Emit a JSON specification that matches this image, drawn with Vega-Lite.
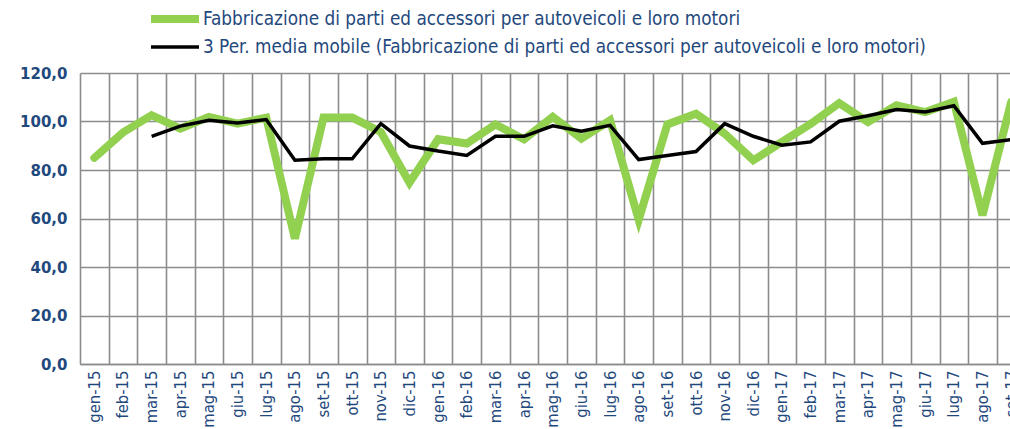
{
  "$schema": "https://vega.github.io/schema/vega-lite/v6.json",
  "autosize": {"type": "none"},
  "width": 930,
  "height": 291,
  "padding": {"left": 80, "top": 73, "right": 0, "bottom": 65},
  "background": "white",
  "config": {
    "view": {"stroke": null},
    "axis": {"gridColor": "#8c8c8c", "gridWidth": 1.6, "domainColor": "#8c8c8c", "domainWidth": 1.6, "ticks": false, "title": null}
  },
  "data": {
    "values": [
      {"month": "gen-15", "series": "Fabbricazione di parti ed accessori per autoveicoli e loro motori", "value": 85.0},
      {"month": "feb-15", "series": "Fabbricazione di parti ed accessori per autoveicoli e loro motori", "value": 95.5},
      {"month": "mar-15", "series": "Fabbricazione di parti ed accessori per autoveicoli e loro motori", "value": 102.6},
      {"month": "apr-15", "series": "Fabbricazione di parti ed accessori per autoveicoli e loro motori", "value": 97.1},
      {"month": "mag-15", "series": "Fabbricazione di parti ed accessori per autoveicoli e loro motori", "value": 101.9},
      {"month": "giu-15", "series": "Fabbricazione di parti ed accessori per autoveicoli e loro motori", "value": 99.1},
      {"month": "lug-15", "series": "Fabbricazione di parti ed accessori per autoveicoli e loro motori", "value": 101.6},
      {"month": "ago-15", "series": "Fabbricazione di parti ed accessori per autoveicoli e loro motori", "value": 51.7},
      {"month": "set-15", "series": "Fabbricazione di parti ed accessori per autoveicoli e loro motori", "value": 101.6},
      {"month": "ott-15", "series": "Fabbricazione di parti ed accessori per autoveicoli e loro motori", "value": 101.6},
      {"month": "nov-15", "series": "Fabbricazione di parti ed accessori per autoveicoli e loro motori", "value": 95.7},
      {"month": "dic-15", "series": "Fabbricazione di parti ed accessori per autoveicoli e loro motori", "value": 74.8},
      {"month": "gen-16", "series": "Fabbricazione di parti ed accessori per autoveicoli e loro motori", "value": 92.7},
      {"month": "feb-16", "series": "Fabbricazione di parti ed accessori per autoveicoli e loro motori", "value": 90.9},
      {"month": "mar-16", "series": "Fabbricazione di parti ed accessori per autoveicoli e loro motori", "value": 98.8},
      {"month": "apr-16", "series": "Fabbricazione di parti ed accessori per autoveicoli e loro motori", "value": 92.7},
      {"month": "mag-16", "series": "Fabbricazione di parti ed accessori per autoveicoli e loro motori", "value": 101.9},
      {"month": "giu-16", "series": "Fabbricazione di parti ed accessori per autoveicoli e loro motori", "value": 92.9},
      {"month": "lug-16", "series": "Fabbricazione di parti ed accessori per autoveicoli e loro motori", "value": 100.5},
      {"month": "ago-16", "series": "Fabbricazione di parti ed accessori per autoveicoli e loro motori", "value": 59.5},
      {"month": "set-16", "series": "Fabbricazione di parti ed accessori per autoveicoli e loro motori", "value": 98.8},
      {"month": "ott-16", "series": "Fabbricazione di parti ed accessori per autoveicoli e loro motori", "value": 103.2},
      {"month": "nov-16", "series": "Fabbricazione di parti ed accessori per autoveicoli e loro motori", "value": 95.0},
      {"month": "dic-16", "series": "Fabbricazione di parti ed accessori per autoveicoli e loro motori", "value": 84.0},
      {"month": "gen-17", "series": "Fabbricazione di parti ed accessori per autoveicoli e loro motori", "value": 91.6},
      {"month": "feb-17", "series": "Fabbricazione di parti ed accessori per autoveicoli e loro motori", "value": 99.0},
      {"month": "mar-17", "series": "Fabbricazione di parti ed accessori per autoveicoli e loro motori", "value": 107.6},
      {"month": "apr-17", "series": "Fabbricazione di parti ed accessori per autoveicoli e loro motori", "value": 99.8},
      {"month": "mag-17", "series": "Fabbricazione di parti ed accessori per autoveicoli e loro motori", "value": 106.7},
      {"month": "giu-17", "series": "Fabbricazione di parti ed accessori per autoveicoli e loro motori", "value": 103.9},
      {"month": "lug-17", "series": "Fabbricazione di parti ed accessori per autoveicoli e loro motori", "value": 108.1},
      {"month": "ago-17", "series": "Fabbricazione di parti ed accessori per autoveicoli e loro motori", "value": 61.3},
      {"month": "set-17", "series": "Fabbricazione di parti ed accessori per autoveicoli e loro motori", "value": 108.0},
      {"month": "mar-15", "series": "3 Per. media mobile (Fabbricazione di parti ed accessori per autoveicoli e loro motori)", "value": 93.9},
      {"month": "apr-15", "series": "3 Per. media mobile (Fabbricazione di parti ed accessori per autoveicoli e loro motori)", "value": 98.1},
      {"month": "mag-15", "series": "3 Per. media mobile (Fabbricazione di parti ed accessori per autoveicoli e loro motori)", "value": 100.5},
      {"month": "giu-15", "series": "3 Per. media mobile (Fabbricazione di parti ed accessori per autoveicoli e loro motori)", "value": 99.4},
      {"month": "lug-15", "series": "3 Per. media mobile (Fabbricazione di parti ed accessori per autoveicoli e loro motori)", "value": 100.8},
      {"month": "ago-15", "series": "3 Per. media mobile (Fabbricazione di parti ed accessori per autoveicoli e loro motori)", "value": 84.0},
      {"month": "set-15", "series": "3 Per. media mobile (Fabbricazione di parti ed accessori per autoveicoli e loro motori)", "value": 84.6},
      {"month": "ott-15", "series": "3 Per. media mobile (Fabbricazione di parti ed accessori per autoveicoli e loro motori)", "value": 84.6},
      {"month": "nov-15", "series": "3 Per. media mobile (Fabbricazione di parti ed accessori per autoveicoli e loro motori)", "value": 99.1},
      {"month": "dic-15", "series": "3 Per. media mobile (Fabbricazione di parti ed accessori per autoveicoli e loro motori)", "value": 89.9},
      {"month": "gen-16", "series": "3 Per. media mobile (Fabbricazione di parti ed accessori per autoveicoli e loro motori)", "value": 87.8},
      {"month": "feb-16", "series": "3 Per. media mobile (Fabbricazione di parti ed accessori per autoveicoli e loro motori)", "value": 86.0},
      {"month": "mar-16", "series": "3 Per. media mobile (Fabbricazione di parti ed accessori per autoveicoli e loro motori)", "value": 93.9},
      {"month": "apr-16", "series": "3 Per. media mobile (Fabbricazione di parti ed accessori per autoveicoli e loro motori)", "value": 93.9},
      {"month": "mag-16", "series": "3 Per. media mobile (Fabbricazione di parti ed accessori per autoveicoli e loro motori)", "value": 98.2},
      {"month": "giu-16", "series": "3 Per. media mobile (Fabbricazione di parti ed accessori per autoveicoli e loro motori)", "value": 96.0},
      {"month": "lug-16", "series": "3 Per. media mobile (Fabbricazione di parti ed accessori per autoveicoli e loro motori)", "value": 98.4},
      {"month": "ago-16", "series": "3 Per. media mobile (Fabbricazione di parti ed accessori per autoveicoli e loro motori)", "value": 84.3},
      {"month": "set-16", "series": "3 Per. media mobile (Fabbricazione di parti ed accessori per autoveicoli e loro motori)", "value": 86.0},
      {"month": "ott-16", "series": "3 Per. media mobile (Fabbricazione di parti ed accessori per autoveicoli e loro motori)", "value": 87.6},
      {"month": "nov-16", "series": "3 Per. media mobile (Fabbricazione di parti ed accessori per autoveicoli e loro motori)", "value": 99.1},
      {"month": "dic-16", "series": "3 Per. media mobile (Fabbricazione di parti ed accessori per autoveicoli e loro motori)", "value": 93.9},
      {"month": "gen-17", "series": "3 Per. media mobile (Fabbricazione di parti ed accessori per autoveicoli e loro motori)", "value": 90.2},
      {"month": "feb-17", "series": "3 Per. media mobile (Fabbricazione di parti ed accessori per autoveicoli e loro motori)", "value": 91.6},
      {"month": "mar-17", "series": "3 Per. media mobile (Fabbricazione di parti ed accessori per autoveicoli e loro motori)", "value": 100.1},
      {"month": "apr-17", "series": "3 Per. media mobile (Fabbricazione di parti ed accessori per autoveicoli e loro motori)", "value": 102.4},
      {"month": "mag-17", "series": "3 Per. media mobile (Fabbricazione di parti ed accessori per autoveicoli e loro motori)", "value": 104.9},
      {"month": "giu-17", "series": "3 Per. media mobile (Fabbricazione di parti ed accessori per autoveicoli e loro motori)", "value": 103.9},
      {"month": "lug-17", "series": "3 Per. media mobile (Fabbricazione di parti ed accessori per autoveicoli e loro motori)", "value": 106.5},
      {"month": "ago-17", "series": "3 Per. media mobile (Fabbricazione di parti ed accessori per autoveicoli e loro motori)", "value": 91.0},
      {"month": "set-17", "series": "3 Per. media mobile (Fabbricazione di parti ed accessori per autoveicoli e loro motori)", "value": 92.5}
    ]
  },
  "encoding": {
    "x": {
      "field": "month", "type": "nominal",
      "scale": {
        "domain": ["gen-15","feb-15","mar-15","apr-15","mag-15","giu-15","lug-15","ago-15","set-15","ott-15","nov-15","dic-15","gen-16","feb-16","mar-16","apr-16","mag-16","giu-16","lug-16","ago-16","set-16","ott-16","nov-16","dic-16","gen-17","feb-17","mar-17","apr-17","mag-17","giu-17","lug-17","ago-17","set-17"],
        "range": [0, 945.5], "paddingInner": 0, "paddingOuter": 0
      },
      "axis": {"tickBand": "extent", "grid": true, "labelAngle": 270, "labelFont": "DejaVu Sans Condensed", "labelFontSize": 16.5, "labelColor": "#1F497D", "labelPadding": 6, "labelOverlap": false}
    },
    "y": {
      "field": "value", "type": "quantitative",
      "scale": {"domain": [0, 120], "nice": false},
      "axis": {"values": [0, 20, 40, 60, 80, 100, 120], "grid": true, "domain": false, "labelFont": "DejaVu Sans", "labelFontWeight": "bold", "labelFontSize": 15, "labelColor": "#1F497D", "labelPadding": 13, "labelExpr": "replace(format(datum.value, '.1f'), '.', ',')"}
    },
    "color": {
      "field": "series", "type": "nominal",
      "scale": {"domain": ["Fabbricazione di parti ed accessori per autoveicoli e loro motori", "3 Per. media mobile (Fabbricazione di parti ed accessori per autoveicoli e loro motori)"], "range": ["#92D050", "#000000"]},
      "legend": {"title": null, "orient": "none", "legendX": 81, "legendY": -68, "direction": "vertical", "symbolType": "M-2.4,0H2.4", "symbolSize": 400, "rowPadding": 0, "padding": 0, "labelOffset": 14, "labelFont": "DejaVu Sans Condensed", "labelFontSize": 18.8, "labelColor": "#1F497D", "labelLimit": 0}
    },
    "strokeWidth": {
      "field": "series", "type": "nominal",
      "scale": {"domain": ["Fabbricazione di parti ed accessori per autoveicoli e loro motori", "3 Per. media mobile (Fabbricazione di parti ed accessori per autoveicoli e loro motori)"], "range": [8, 3.5]},
      "legend": {"title": null, "orient": "none", "legendX": 81, "legendY": -68, "direction": "vertical", "symbolType": "M-2.4,0H2.4", "symbolSize": 400, "rowPadding": 0, "padding": 0, "labelOffset": 14, "labelFont": "DejaVu Sans Condensed", "labelFontSize": 18.8, "labelColor": "#1F497D", "labelLimit": 0}
    }
  },
  "layer": [
    {
      "transform": [{"filter": "indexof(datum.series, '3 Per') !== 0"}],
      "mark": {"type": "line", "strokeCap": "round", "strokeJoin": "miter"}
    },
    {
      "transform": [{"filter": "indexof(datum.series, '3 Per') === 0"}],
      "mark": {"type": "line", "strokeCap": "butt"}
    }
  ]
}
